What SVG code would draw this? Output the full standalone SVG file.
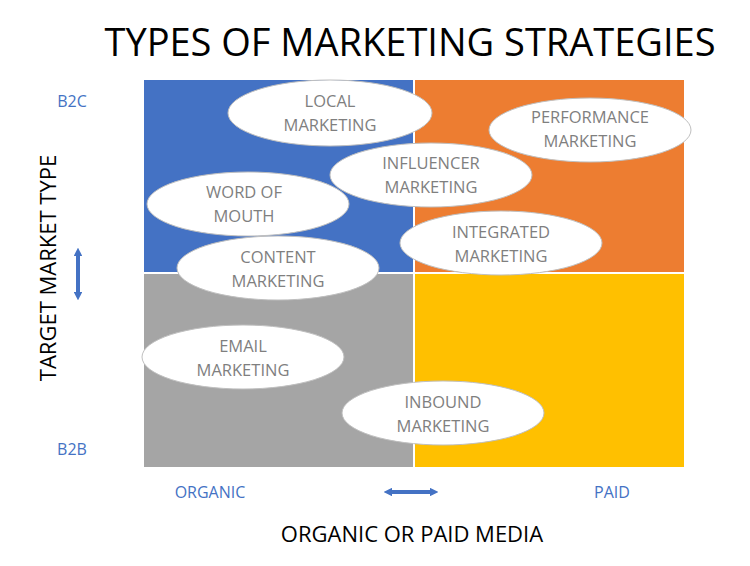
<svg xmlns="http://www.w3.org/2000/svg" width="750" height="566" viewBox="0 0 750 566">
<style>
text{font-family:"Open Sans","Liberation Sans",sans-serif}
.e{fill:#fff;stroke:#bfbfbf;stroke-width:1}
.t{fill:#7f7f7f;font-size:16.5px;text-anchor:middle}
.b{fill:#4472c4;font-size:16px;text-anchor:middle}
.a{stroke:#4472c4;stroke-width:4}
</style>
<defs>
<marker id="ar" viewBox="0 0 10 10" refX="5" refY="5" markerWidth="2.2" markerHeight="2.2" orient="auto-start-reverse"><path d="M0,0L10,5L0,10z" fill="#4472c4"/></marker>
</defs>
<rect width="750" height="566" fill="#fff"/>
<text x="410" y="56" font-size="38" text-anchor="middle" fill="#000">TYPES OF MARKETING STRATEGIES</text>
<g id="quadrants">
<rect x="144" y="80" width="269" height="192" fill="#4472c4"/>
<rect x="415" y="80" width="269" height="192" fill="#ed7d31"/>
<rect x="144" y="274" width="269" height="193" fill="#a5a5a5"/>
<rect x="415" y="274" width="269" height="193" fill="#ffc000"/>
</g>
<text class="b" x="72" y="107">B2C</text>
<text class="b" x="72" y="455">B2B</text>
<text class="b" x="210" y="498">ORGANIC</text>
<text class="b" x="612" y="498">PAID</text>
<text x="412" y="542" font-size="22" text-anchor="middle" fill="#000">ORGANIC OR PAID MEDIA</text>
<text transform="translate(56,268) rotate(-90)" font-size="22" text-anchor="middle" fill="#000">TARGET MARKET TYPE</text>
<g id="connectors">
<line class="a" x1="78" y1="252" x2="78" y2="296" marker-start="url(#ar)" marker-end="url(#ar)"/>
<line class="a" x1="388" y1="492" x2="434" y2="492" marker-start="url(#ar)" marker-end="url(#ar)"/>
</g>
<g id="local"><ellipse class="e" cx="330" cy="113" rx="102" ry="33"/><text class="t" x="330" y="107">LOCAL</text><text class="t" x="330" y="131">MARKETING</text></g>
<g id="performance"><ellipse class="e" cx="590" cy="130" rx="101" ry="32"/><text class="t" x="590" y="123">PERFORMANCE</text><text class="t" x="590" y="147">MARKETING</text></g>
<g id="influencer"><ellipse class="e" cx="431" cy="175" rx="101" ry="32"/><text class="t" x="431" y="169">INFLUENCER</text><text class="t" x="431" y="193">MARKETING</text></g>
<g id="wom"><ellipse class="e" cx="248" cy="204" rx="101" ry="32"/><text class="t" x="244" y="198">WORD OF</text><text class="t" x="244" y="222">MOUTH</text></g>
<g id="integrated"><ellipse class="e" cx="501" cy="243" rx="101" ry="32"/><text class="t" x="501" y="238">INTEGRATED</text><text class="t" x="501" y="262">MARKETING</text></g>
<g id="content"><ellipse class="e" cx="278" cy="268" rx="101" ry="32"/><text class="t" x="278" y="263">CONTENT</text><text class="t" x="278" y="287">MARKETING</text></g>
<g id="email"><ellipse class="e" cx="243" cy="357" rx="101" ry="32"/><text class="t" x="243" y="352">EMAIL</text><text class="t" x="243" y="376">MARKETING</text></g>
<g id="inbound"><ellipse class="e" cx="443" cy="413" rx="101" ry="32"/><text class="t" x="443" y="408">INBOUND</text><text class="t" x="443" y="432">MARKETING</text></g>
</svg>
